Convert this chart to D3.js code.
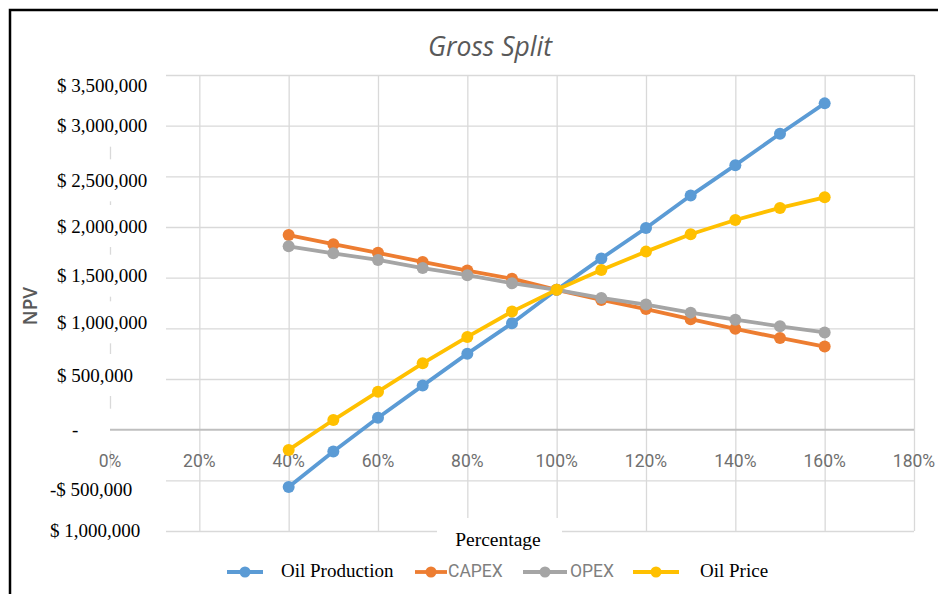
<!DOCTYPE html>
<html>
<head>
<meta charset="utf-8">
<script src="https://cdn.jsdelivr.net/npm/d3@7"></script>
<style>
  html, body { margin: 0; padding: 0; background: #fff; }
  svg { display: block; }
</style>
</head>
<body>
<svg id="chart" width="938" height="594"></svg>
<script>
// percentages on the x axis (0..1 = 0..100%)
const percents = [0.4, 0.5, 0.6, 0.7, 0.8, 0.9, 1.0, 1.1, 1.2, 1.3, 1.4, 1.5, 1.6];

// NPV values in $
const oilProduction = [-565000, -215000, 118000, 435000, 750000, 1050000, 1380000, 1690000, 1990000, 2310000, 2610000, 2920000, 3220000];
const capex = [1920000, 1830000, 1745000, 1655000, 1570000, 1490000, 1380000, 1280000, 1190000, 1090000, 995000, 905000, 820000];
const opex = [1810000, 1740000, 1675000, 1595000, 1525000, 1445000, 1380000, 1300000, 1235000, 1155000, 1085000, 1020000, 960000];
const oilPrice = [-200000, 95000, 375000, 655000, 915000, 1165000, 1380000, 1575000, 1757000, 1928000, 2069000, 2188000, 2293000];

const seriesNames = ['Oil Production', 'CAPEX', 'OPEX', 'Oil Price'];
const seriesColors = ['#5b9bd5', '#ed7d31', '#a5a5a5', '#ffc000'];

const xTicks = [0, 0.2, 0.4, 0.6, 0.8, 1.0, 1.2, 1.4, 1.6, 1.8];
const yTicks = [-1000000, -500000, 0, 500000, 1000000, 1500000, 2000000, 2500000, 3000000, 3500000];
const yTickLabels = ['$ 1,000,000', '-$ 500,000', '-', '$ 500,000', '$ 1,000,000', '$ 1,500,000',
                     '$ 2,000,000', '$ 2,500,000', '$ 3,000,000', '$ 3,500,000'];

const svg = d3.select('#chart');

// plot area
const plotLeft = 110, plotRight = 914, plotTop = 75, plotBottom = 531;
// the y labels in the picture are not quite level with their gridlines
const yLabelNudge = [-1, 9, 0, -4, -6, -2, -1, 4, 0, 10];

let x = d3.scaleLinear().domain([0, 1.8]).range([plotLeft, plotRight]);
let y = d3.scaleLinear().domain([-1000000, 3500000]).range([plotBottom, plotTop]);

// frame round the picture
svg.append('rect')
    .attr('x', 10).attr('y', 10)
    .attr('width', 1000).attr('height', 1000)
    .attr('fill', 'none')
    .attr('stroke', '#000')
    .attr('stroke-width', 2.5);

// title
svg.append('text')
    .attr('x', 490).attr('y', 56)
    .attr('text-anchor', 'middle')
    .attr('font-family', 'Open Sans, sans-serif')
    .attr('font-style', 'italic')
    .attr('font-size', 26.5)
    .attr('fill', '#595959')
    .text('Gross Split');

// gridlines
let grid = svg.append('g');
grid.append('g')
    .attr('transform', `translate(0,${plotBottom})`)
    .call(d3.axisBottom(x).tickValues(xTicks).tickSize(-(plotBottom - plotTop)).tickFormat(''))
    .call(g => g.select('.domain').remove())
    .call(g => g.selectAll('line').attr('stroke', '#d9d9d9').attr('stroke-width', 1.3));
grid.append('g')
    .attr('transform', `translate(${plotLeft},0)`)
    .call(d3.axisLeft(y).tickValues(yTicks.filter(v => v !== 0)).tickSize(-(plotRight - plotLeft)).tickFormat(''))
    .call(g => g.select('.domain').remove())
    .call(g => g.selectAll('line').attr('stroke', '#d9d9d9').attr('stroke-width', 1.3));

// y labels sit on white patches that hide the left end of the grid
let ylab = svg.append('g');
yTicks.forEach((v, i) => {
    let label = yTickLabels[i];
    let cy = y(v) + yLabelNudge[i];
    ylab.append('rect')
        .attr('x', 38).attr('y', cy - 21)
        .attr('width', 128).attr('height', 42)
        .attr('fill', '#fff');
    let tx = v < 0 ? 50 : 57;
    if (label === '-') tx = 72;
    ylab.append('text')
        .attr('x', tx).attr('y', cy)
        .attr('dy', '0.35em')
        .attr('font-family', 'Liberation Serif, serif')
        .attr('font-size', 19)
        .attr('fill', '#000')
        .text(label);
});

// zero line
svg.append('line')
    .attr('x1', x(0)).attr('x2', x(1.8))
    .attr('y1', y(0)).attr('y2', y(0))
    .attr('stroke', '#bfbfbf')
    .attr('stroke-width', 2);

// x tick labels
svg.append('g')
    .selectAll('text')
    .data(xTicks)
    .join('text')
    .attr('x', d => x(d))
    .attr('y', 467)
    .attr('text-anchor', 'middle')
    .attr('font-family', 'Roboto, sans-serif')
    .attr('font-size', 17.5)
    .attr('fill', '#6f6f6f')
    .text(d => d3.format('.0%')(d));

// axis titles
svg.append('text')
    .attr('transform', 'translate(37,306) rotate(-90)')
    .attr('text-anchor', 'middle')
    .attr('font-family', 'Open Sans, sans-serif')
    .attr('font-weight', 600)
    .attr('font-size', 19)
    .attr('fill', '#595959')
    .text('NPV');

svg.append('rect')
    .attr('x', 437).attr('y', 518)
    .attr('width', 125).attr('height', 42)
    .attr('fill', '#fff');
svg.append('text')
    .attr('x', 498).attr('y', 546)
    .attr('text-anchor', 'middle')
    .attr('font-family', 'Liberation Serif, serif')
    .attr('font-size', 19.5)
    .attr('fill', '#000')
    .text('Percentage');

// series
const allSeries = [oilProduction, capex, opex, oilPrice];
let line = d3.line()
    .x(d => x(d[0]))
    .y(d => y(d[1]));

allSeries.forEach((vals, i) => {
    let pts = percents.map((p, j) => [p, vals[j]]);
    let g = svg.append('g');
    g.append('path')
        .datum(pts)
        .attr('fill', 'none')
        .attr('stroke', seriesColors[i])
        .attr('stroke-width', 3.8)
        .attr('stroke-linejoin', 'round')
        .attr('d', line);
    g.selectAll('circle')
        .data(pts)
        .join('circle')
        .attr('cx', d => x(d[0]))
        .attr('cy', d => y(d[1]))
        .attr('r', 6)
        .attr('fill', seriesColors[i]);
});

// legend (the picture mixes two label styles)
const legendLine = [[227, 263], [415, 447], [523, 567], [633, 679]];
const legendText = [281, 448, 570, 700];
const legendSerif = [true, false, false, true];
let legend = svg.append('g');
seriesNames.forEach((name, i) => {
    let [a, b] = legendLine[i];
    legend.append('line')
        .attr('x1', a).attr('x2', b)
        .attr('y1', 572).attr('y2', 572)
        .attr('stroke', seriesColors[i])
        .attr('stroke-width', 3.8);
    legend.append('circle')
        .attr('cx', (a + b) / 2).attr('cy', 572)
        .attr('r', 5.5)
        .attr('fill', seriesColors[i]);
    legend.append('text')
        .attr('x', legendText[i]).attr('y', 577)
        .attr('font-family', legendSerif[i] ? 'Liberation Serif, serif' : 'Roboto, sans-serif')
        .attr('font-size', legendSerif[i] ? 19 : 17.5)
        .attr('fill', legendSerif[i] ? '#000' : '#7f7f7f')
        .text(name);
});
</script>
</body>
</html>
